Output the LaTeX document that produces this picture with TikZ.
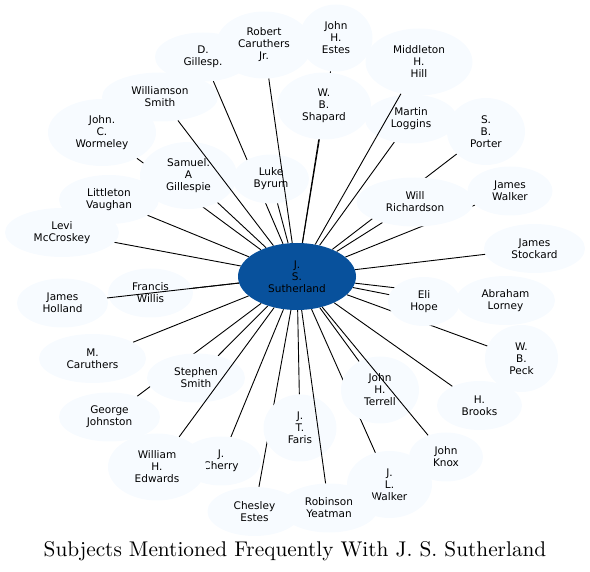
\documentclass[tikz,border=0pt]{standalone}
\usepackage{fontspec}
\newfontfamily\graphfont{DejaVu Sans}
\newfontfamily\captionfont{lmroman10-regular}[Extension=.otf]
\usetikzlibrary{shapes.geometric,backgrounds}
\definecolor{hubblue}{HTML}{08519C}
\definecolor{leafblue}{HTML}{F7FBFF}

\begin{document}
\begin{tikzpicture}[
    x=1pt, y=-1pt,
    every node/.style={font=\graphfont\fontsize{10.5}{12}\selectfont},
    leaf/.style={ellipse, fill=leafblue, inner sep=0pt, align=center},
    leaftwo/.style={leaf, minimum height=49pt},
    leafthree/.style={leaf, minimum height=67pt},
    hub/.style={ellipse, fill=hubblue, inner sep=0pt, align=center, minimum width=118pt, minimum height=67pt},
    link/.style={line width=0.9pt, black},
]
\useasboundingbox (0,0) rectangle (590,572);

% ---- Hub ----
\node[hub] (sutherland) at (297,276.5) {J.\\S.\\Sutherland};

% ---- Top ----
\node[leaftwo, minimum width=96pt] (gillespD) at (203,57) {D.\\Gillesp.};
\node[leafthree, minimum width=96pt] (robert) at (264,45) {Robert\\Caruthers\\Jr.};
\node[leafthree, minimum width=73pt] (estes) at (336,38) {John\\H.\\Estes};
\node[leafthree, minimum width=107pt] (middleton) at (419,62) {Middleton\\H.\\Hill};
\node[leafthree, minimum width=94pt] (shapard) at (324,106) {W.\\B.\\Shapard};
\node[leaftwo, minimum width=92pt] (loggins) at (411,119) {Martin\\Loggins};
\node[leafthree, minimum width=78pt] (porter) at (486,131.5) {S.\\B.\\Porter};

% ---- Left, upper ----
\node[leaftwo, minimum width=116pt] (williamson) at (160,97) {Williamson\\Smith};
\node[leafthree, minimum width=108pt] (wormeley) at (102,132.5) {John.\\C.\\Wormeley};
\node[leafthree, minimum width=97pt] (gillespieS) at (188.5,175.5) {Samuel.\\A\\Gillespie};
\node[leaftwo, minimum width=76pt] (byrum) at (271,179) {Luke\\Byrum};
\node[leaftwo, minimum width=100pt] (vaughan) at (109,199.5) {Littleton\\Vaughan};
\node[leaftwo, minimum width=114pt] (mccroskey) at (62,232.5) {Levi\\McCroskey};

% ---- Right ----
\node[leaftwo, minimum width=117pt] (richardson) at (415,202) {Will\\Richardson};
\node[leaftwo, minimum width=85pt] (walkerJ) at (510,191) {James\\Walker};
\node[leaftwo, minimum width=101pt] (stockard) at (534.5,248.5) {James\\Stockard};
\node[leaftwo, minimum width=72pt] (hope) at (424,301.5) {Eli\\Hope};
\node[leaftwo, minimum width=99pt] (lorney) at (505.5,300.5) {Abraham\\Lorney};
\node[leafthree, minimum width=73pt] (peck) at (521.5,358.5) {W.\\B.\\Peck};
\node[leaftwo, minimum width=85pt] (brooks) at (479.5,405.5) {H.\\Brooks};

% ---- Bottom ----
\node[leaftwo, minimum width=74pt] (knox) at (446,457) {John\\Knox};
\node[leafthree, minimum width=78pt] (terrell) at (380,390) {John\\H.\\Terrell};
\node[leafthree, minimum width=85pt] (walkerJL) at (389.5,484.5) {J.\\L.\\Walker};
\node[leaftwo, minimum width=98pt] (yeatman) at (329,508) {Robinson\\Yeatman};
\node[leafthree, minimum width=73pt] (faris) at (300,428) {J.\\T.\\Faris};
\node[leaftwo, minimum width=94pt] (chesley) at (254.5,511.5) {Chesley\\Estes};
\node[leaftwo, minimum width=80pt] (cherry) at (221,461) {J.\\Cherry};
\node[leafthree, minimum width=98pt] (edwards) at (157,467) {William\\H.\\Edwards};

% ---- Left, lower ----
\node[leaftwo, minimum width=101pt] (johnston) at (109.5,417) {George\\Johnston};
\node[leaftwo, minimum width=98pt] (stephen) at (196,378) {Stephen\\Smith};
\node[leaftwo, minimum width=107pt] (caruthersM) at (92.5,358.5) {M.\\Caruthers};
\node[leaftwo, minimum width=91pt] (holland) at (62.5,303) {James\\Holland};
\node[leaftwo, minimum width=85pt] (willis) at (150.5,293) {Francis\\Willis};

% ---- Links under the leaves ----
\begin{scope}[on background layer]
\draw[link] (sutherland) -- (gillespD);
\draw[link] (sutherland) -- (estes);
\draw[link] (sutherland) -- (shapard);
\draw[link] (sutherland) -- (loggins);
\draw[link] (sutherland) -- (porter);
\draw[link] (sutherland) -- (wormeley);
\draw[link] (sutherland) -- (gillespieS);
\draw[link] (sutherland) -- (byrum);
\draw[link] (sutherland) -- (vaughan);
\draw[link] (sutherland) -- (mccroskey);
\draw[link] (sutherland) -- (richardson);
\draw[link] (sutherland) -- (walkerJ);
\draw[link] (sutherland) -- (stockard);
\draw[link] (sutherland) -- (hope);
\draw[link] (sutherland) -- (lorney);
\draw[link] (sutherland) -- (peck);
\draw[link] (sutherland) -- (brooks);
\draw[link] (sutherland) -- (terrell);
\draw[link] (sutherland) -- (walkerJL);
\draw[link] (sutherland) -- (faris);
\draw[link] (sutherland) -- (chesley);
\draw[link] (sutherland) -- (cherry);
\draw[link] (sutherland) -- (johnston);
\draw[link] (sutherland) -- (stephen);
\draw[link] (sutherland) -- (caruthersM);
\draw[link] (sutherland) -- (willis);
\end{scope}

% ---- Links over the leaves ----
\draw[link] (sutherland) -- (robert);
\draw[link] (sutherland) -- (middleton);
\draw[link] (sutherland) -- (williamson);
\draw[link] (sutherland) -- (holland);
\draw[link] (sutherland) -- (edwards);
\draw[link] (sutherland) -- (yeatman);
\draw[link] (sutherland) -- (knox);

% ---- Caption ----
\node[font=\captionfont\fontsize{21.3}{26}\selectfont, anchor=base] (caption) at (295,556) {Subjects Mentioned Frequently With J. S. Sutherland};

\end{tikzpicture}
\end{document}
